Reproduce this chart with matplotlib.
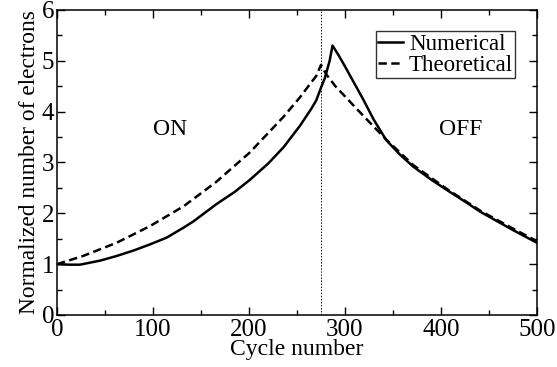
import matplotlib
matplotlib.use("Agg")
import matplotlib.pyplot as plt
from matplotlib.ticker import MultipleLocator

plt.rcParams["font.family"] = ["Liberation Serif", "DejaVu Serif"]
plt.rcParams["lines.scale_dashes"] = False

# numerical simulation, charging (ON) then decay (OFF)
num_cycle = [0, 12, 24, 45, 62, 80, 97, 114, 132, 142, 159, 166, 185, 201, 220,
             236, 253, 265, 270, 276, 279, 284, 287, 293, 300, 307, 319, 330,
             343, 357, 371, 390, 406, 425, 441, 458, 475, 490, 500]
num_value = [1.0, 0.99, 0.99, 1.07, 1.16, 1.27, 1.39, 1.52, 1.72, 1.84, 2.08, 2.18,
             2.42, 2.66, 2.98, 3.30, 3.72, 4.06, 4.22, 4.52, 4.66, 5.0, 5.30,
             5.12, 4.89, 4.65, 4.24, 3.84, 3.44, 3.16, 2.92, 2.66, 2.46, 2.23,
             2.03, 1.85, 1.67, 1.52, 1.42]

# analytic estimate
theo_cycle = [0, 27, 62, 97, 132, 166, 201, 236, 253, 265, 270, 275, 281,
              290, 300, 320, 343, 371, 406, 441, 475, 500]
theo_value = [1.0, 1.16, 1.42, 1.75, 2.14, 2.62, 3.20, 3.90, 4.28, 4.58, 4.70,
              4.92, 4.72, 4.50, 4.30, 3.90, 3.45, 2.95, 2.48, 2.05, 1.70, 1.45]

switch_cycle = 275

fig = plt.figure(figsize=(5.57, 3.67), dpi=100)
ax = fig.add_axes([0.1023, 0.1417, 0.8618, 0.8311])

ax.plot(num_cycle, num_value, color="black", lw=1.8, label="Numerical")
ax.plot(theo_cycle, theo_value, color="black", lw=1.8, dashes=(6, 3.2),
        label="Theoretical")
ax.axvline(switch_cycle, color="black", lw=0.7, ls=(0, (1, 1.2)))

ax.text(118, 3.64, "ON", fontsize=17, ha="center", va="center")
ax.text(421, 3.64, "OFF", fontsize=17, ha="center", va="center")

ax.set_xlim(0, 500)
ax.set_ylim(0, 6)
ax.xaxis.set_major_locator(MultipleLocator(100))
ax.xaxis.set_minor_locator(MultipleLocator(50))
ax.yaxis.set_major_locator(MultipleLocator(1))
ax.yaxis.set_minor_locator(MultipleLocator(0.5))
ax.tick_params(which="both", direction="in", top=True, right=True,
               labelsize=18, width=1.0)
ax.tick_params(axis="x", pad=3)
ax.tick_params(axis="y", pad=2)
ax.tick_params(which="major", length=6)
ax.tick_params(which="minor", length=3.5)
for s in ax.spines.values():
    s.set_linewidth(1.1)

ax.set_xlabel("Cycle number", fontsize=17, labelpad=-1.5)
ax.set_ylabel("Normalized number of electrons", fontsize=16.8, labelpad=1)

leg = ax.legend(loc="upper right", bbox_to_anchor=(0.955, 0.93), fontsize=16.5,
                frameon=True, fancybox=False, edgecolor="black",
                handlelength=1.1, handletextpad=0.25, borderpad=0.1,
                labelspacing=0.0, borderaxespad=0)
leg.get_frame().set_linewidth(1.0)

fig.savefig("out.png", dpi=100)
